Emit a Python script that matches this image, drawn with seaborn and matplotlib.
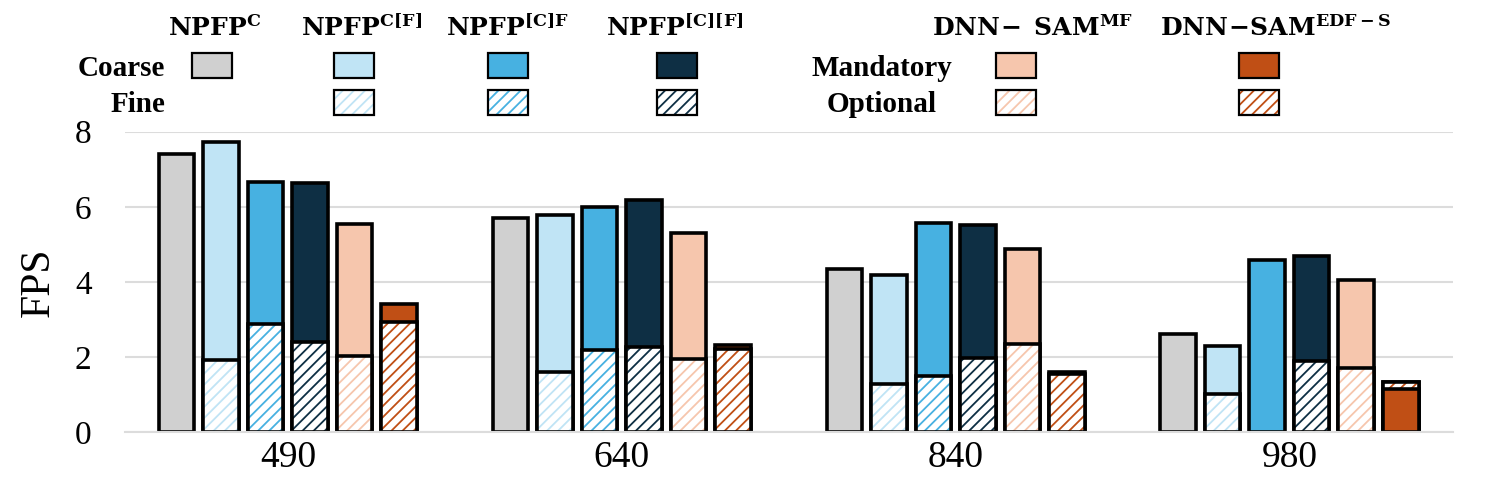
import numpy as np
import pandas as pd
import seaborn as sns
import matplotlib.pyplot as plt
from matplotlib.patches import Rectangle

# data (FPS)
resolutions = ["490", "640", "840", "980"]
methods = ["NPFP^C", "NPFP^C[F]", "NPFP^[C]F", "NPFP^[C][F]", "DNN-SAM^MF", "DNN-SAM^EDF-S"]

# full bar height
npfp_c_total = [7.40, 5.71, 4.33, 2.61]
npfp_c_of_total = [7.72, 5.78, 4.17, 2.30]
npfp_oc_f_total = [6.67, 6.00, 5.58, 4.59]
npfp_oc_of_total = [6.63, 6.18, 5.52, 4.69]
sam_mf_total = [5.53, 5.31, 4.88, 4.06]
sam_edf_total = [3.42, 2.33, 1.60, 1.33]

# hatched part (fine / optional)
npfp_c_fine = [0, 0, 0, 0]
npfp_c_of_fine = [1.92, 1.60, 1.27, 1.02]
npfp_oc_f_fine = [2.88, 2.18, 1.48, 0]
npfp_oc_of_fine = [2.41, 2.27, 1.97, 1.88]
sam_mf_opt = [2.03, 1.95, 2.34, 1.71]
sam_edf_opt = [2.94, 2.20, 1.55, 0.18]

# at 980 the EDF-S mandatory part sits below the optional part
sam_edf_mand_below = [0, 0, 0, 1.15]

colors = ["#D0D0D0", "#C0E4F5", "#47B1E1", "#0E2F44", "#F6C6AD", "#C04F15"]
palette = dict(zip(methods, colors))

totals = [npfp_c_total, npfp_c_of_total, npfp_oc_f_total, npfp_oc_of_total, sam_mf_total, sam_edf_total]
hatched = [npfp_c_fine, npfp_c_of_fine, npfp_oc_f_fine, npfp_oc_of_fine, sam_mf_opt, sam_edf_opt]
below = [[0] * 4] * 5 + [sam_edf_mand_below]

rows = []
for m, t, h, b in zip(methods, totals, hatched, below):
    for r, tv, hv, bv in zip(resolutions, t, h, b):
        rows.append({"res": r, "method": m, "total": tv, "hatch_top": bv + hv, "base": bv, "opt": hv})
df = pd.DataFrame(rows)

sns.set_style("white")
plt.rcParams["font.family"] = ["Liberation Serif", "DejaVu Serif"]
plt.rcParams["mathtext.fontset"] = "dejavuserif"
plt.rcParams["hatch.linewidth"] = 1.3
for k in ["text.color", "axes.labelcolor", "xtick.color", "ytick.color"]:
    plt.rcParams[k] = "black"

fig = plt.figure(figsize=(14.95, 4.86), dpi=100)
ax = fig.add_axes([125 / 1495, 54 / 486, 1328 / 1495, 300.3 / 486])

common = dict(x="res", hue="method", order=resolutions, hue_order=methods, palette=palette,
              width=0.8, gap=0.2, dodge=True, saturation=1, errorbar=None, legend=False, ax=ax)
EDGE = 2.6
HATCH = "///"

# solid full bars
sns.barplot(df, y="total", edgecolor="black", linewidth=EDGE, **common)

# hatched segment (white background, coloured stripes)
sub = df[df["opt"] > 0]
n0 = len(ax.containers)
sns.barplot(sub, y="hatch_top", **common)
for cont in ax.containers[n0:]:
    for p in cont.patches:
        c = p.get_facecolor()
        p.set_facecolor("white")
        p.set_edgecolor(c)
        p.set_hatch(HATCH)
        p.set_linewidth(0)

# outline of the hatched segment
n0 = len(ax.containers)
sns.barplot(sub, y="hatch_top", **common)
for cont in ax.containers[n0:]:
    for p in cont.patches:
        p.set_facecolor("none")
        p.set_edgecolor("black")
        p.set_linewidth(EDGE)

# mandatory part underneath (980 EDF-S)
sub2 = df[df["base"] > 0]
sns.barplot(sub2, y="base", edgecolor="black", linewidth=EDGE, **common)

ax.set_ylim(0, 8)
ax.set_xlim(-0.488, 3.49)
ax.set_yticks([0, 2, 4, 6, 8])
ax.yaxis.grid(True, color="#DCDCDC", linewidth=1.5)
ax.set_axisbelow(True)
for s in ["left", "top", "right"]:
    ax.spines[s].set_visible(False)
ax.spines["bottom"].set_color("#DCDCDC")
ax.spines["bottom"].set_linewidth(1.5)
ax.tick_params(axis="y", length=0, labelsize=24, pad=24)
ax.tick_params(axis="x", length=0, labelsize=27, pad=6)
ax.set_xlabel("")
ax.set_ylabel("FPS", fontsize=30, labelpad=12)

# legend drawn as a grid in pixel coordinates
lax = fig.add_axes([0, 1 - 130 / 486, 1, 130 / 486])
lax.set_xlim(0, 1495)
lax.set_ylim(130, 0)
lax.axis("off")

headers = [r"$\mathbf{NPFP}^{\mathbf{C}}$", r"$\mathbf{NPFP}^{\mathbf{C[F]}}$",
           r"$\mathbf{NPFP}^{\mathbf{[C]F}}$", r"$\mathbf{NPFP}^{\mathbf{[C][F]}}$",
           r"$\mathbf{DNN\!-\ SAM}^{\mathbf{MF}}$", r"$\mathbf{DNN\!-\!SAM}^{\mathbf{EDF-S}}$"]
header_x = [215, 362, 508, 675, 1032, 1276]
swatch_x = [212, 354, 508, 677, 1016, 1259]
has_hatch = [False, True, True, True, True, True]

for h, hx in zip(headers, header_x):
    lax.text(hx, 36, h, ha="center", va="baseline", fontsize=18)

sw, sh = 40, 25
for sx, c, hh in zip(swatch_x, colors, has_hatch):
    lax.add_patch(Rectangle((sx - sw / 2, 65.5 - sh / 2), sw, sh, facecolor=c,
                            edgecolor="black", linewidth=1.6))
    if hh:
        lax.add_patch(Rectangle((sx - sw / 2, 102.5 - sh / 2), sw, sh, facecolor="white",
                                edgecolor=c, hatch=HATCH, linewidth=0))
        lax.add_patch(Rectangle((sx - sw / 2, 102.5 - sh / 2), sw, sh, fill=False,
                                edgecolor="black", linewidth=1.6))

lab = dict(fontsize=21, fontweight="bold", va="baseline")
lax.text(165, 76, "Coarse", ha="right", **lab)
lax.text(165, 112.5, "Fine", ha="right", **lab)
lax.text(882, 76, "Mandatory", ha="center", **lab)
lax.text(882, 112.5, "Optional", ha="center", **lab)

fig.savefig("out.png", dpi=100)
